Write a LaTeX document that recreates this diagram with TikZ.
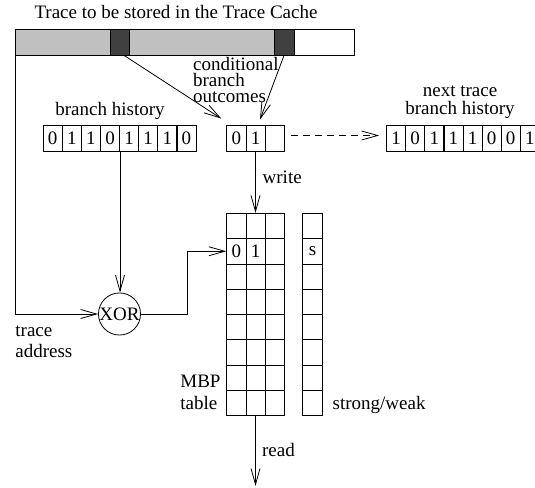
\documentclass[tikz,border=0pt]{standalone}
\usepackage{fontspec}
\setmainfont{Liberation Serif}
\newfontfamily\trserif{Liberation Serif}
\usetikzlibrary{arrows.meta,positioning}
\definecolor{lgray}{RGB}{192,192,192}
\definecolor{dgray}{RGB}{64,64,64}
\newcommand{\trfont}[1]{\trserif\fontsize{19}{#1}\selectfont}
\begin{document}
\trfont{16}
\begin{tikzpicture}[x=1pt,y=-1pt,line width=0.8pt,
	>={Straight Barb[length=16pt,width=9pt]},
	every node/.style={inner sep=0pt},
	lbl/.style={font=\trfont{16}},
	seg/.style={draw,anchor=west,outer sep=0pt,minimum height=25.7},
	cell/.style={draw,lbl,minimum width=19.2,minimum height=26},
	tcell/.style={cell,minimum height=25.3}]
	\useasboundingbox (0,0) rectangle (535,487);

	\node[lbl,anchor=base] (title) at (176,18.3) {Trace to be stored in the Trace Cache};
	\node[seg,fill=lgray,minimum width=95] (s1) at (15,42.2) {};
	\node[seg,fill=dgray,minimum width=19,right=0pt of s1] (b1) {};
	\node[seg,fill=lgray,minimum width=145.3,right=0pt of b1] (s3) {};
	\node[seg,fill=dgray,minimum width=19.7,right=0pt of s3] (b2) {};
	\node[seg,minimum width=60,right=0pt of b2] (s5) {};

	% registers
	\foreach \v [count=\i] in {0,1,1,0,1,1,1,0}
		\node[cell] (h\i) at ({33.6+19.1*\i},138) {\v};
	\foreach \v [count=\i] in {0,1,{}}
		\node[cell] (o\i) at ({217.1+19.2*\i},138) {\v};
	\foreach \v [count=\i] in {1,0,1,1,1,0,0,1}
		\node[cell] (n\i) at ({377+19.1*\i},138) {\v};
	\node[lbl,anchor=base] (hlab) at (110,115) {branch history};
	\node[anchor=north,align=center,font=\trfont{17.3}] (nlab) at (460,85.7) {next trace\\branch history};
	\node[lbl,anchor=north west,align=left] (clab) at (192.7,57) {conditional\\branch\\outcomes};

	% MBP table
	\foreach \r in {1,...,8} {
		\foreach \c in {1,2,3}
			\node[tcell] (t\r-\c) at ({217.1+19.2*\c},{200.65+25.3*\r}) {};
		\node[tcell,minimum width=19.6] (w\r) at (312.5,{200.65+25.3*\r}) {};
	}
	\node[lbl] (z0) at (t2-1) {0};
	\node[lbl] (z1) at (t2-2) {1};
	\node[lbl] (zs) at (w2) {s};
	\node[anchor=north west,align=left,font=\trfont{22}] (mlab) at (180,374.7) {MBP\\table};
	\node[lbl,anchor=base west] (slab) at (332.3,409.3) {strong/weak};

	\node[lbl,circle,draw,minimum size=42] (xor) at (119.5,314) {XOR};
	\node[anchor=north west,align=left,font=\trfont{20.6}] (alab) at (15,325.7) {trace\\address};
	\coordinate (rd) at (255.5,486);

	\draw[->] ([xshift=4pt]b1.south) -- ([xshift=-5pt,yshift=6pt]o1.north west);
	\draw[->] (b2.south) -- ([xshift=4.5pt,yshift=5pt]o2.north);
	\draw[->,dash pattern=on 7pt off 5pt] ([xshift=6.5pt,yshift=2.5pt]o3.east) -- ([xshift=-7pt,yshift=2.5pt]n1.west);
	\draw[->] (o2.south) -- (t1-2.north);
	\node[lbl,anchor=base west] (wlab) at (262.3,183.3) {write};
	\draw[->] (t8-2.south) -- (rd);
	\node[lbl,anchor=base west] (rlab) at (261.7,456.7) {read};
	\draw[->] (s1.south west) |- (xor.west);
	\draw[->] (h4.south east) -- (h4.south east |- xor.north);
	\draw[->] (xor.east) -- ++(46,0) |- (t2-1.west);
\end{tikzpicture}
\end{document}
